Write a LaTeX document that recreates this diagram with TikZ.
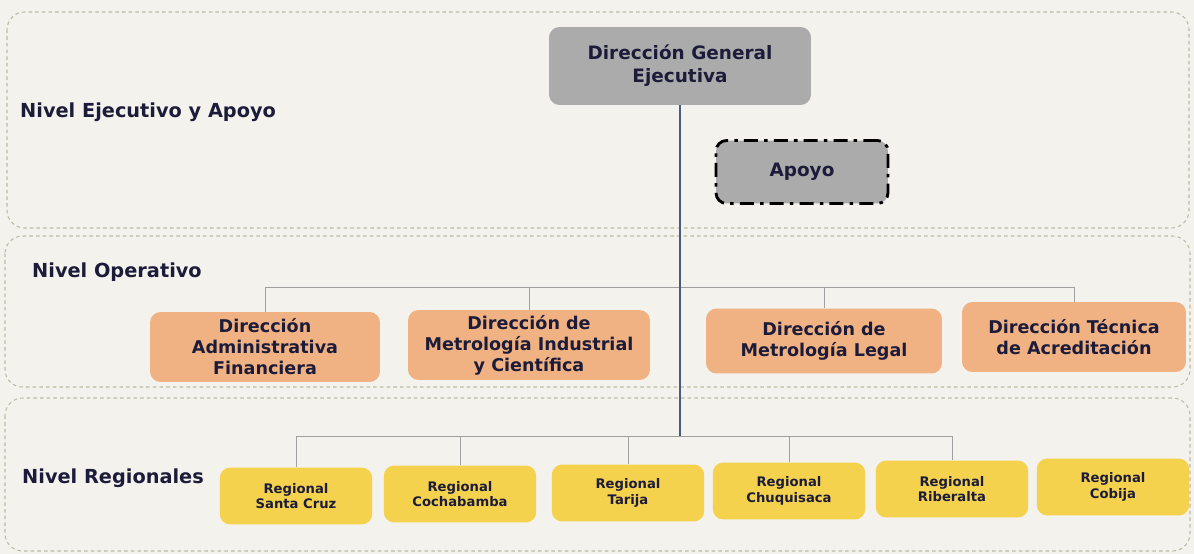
\documentclass[tikz,border=0pt]{standalone}
\usepackage{fontspec}
\setmainfont{DejaVu Sans}
\usepackage{tikz}

\definecolor{paper}{HTML}{F3F2EC}
\definecolor{panelline}{HTML}{BDBBA4}
\definecolor{gris}{HTML}{ABABAB}
\definecolor{naranja}{HTML}{F0B282}
\definecolor{amarillo}{HTML}{F5D24E}
\definecolor{tinta}{HTML}{1C1C3A}
\definecolor{azul}{HTML}{4A5A84}

\begin{document}
\begin{tikzpicture}[x=0.02cm,y=-0.02cm,
    panel/.style={draw=panelline,dash pattern=on 2pt off 1.8pt,rounded corners=10pt,line width=0.6pt},
    nivel/.style={anchor=west,text=tinta,font=\fontsize{11}{13}\selectfont\bfseries},
    caja/.style={rounded corners=6pt,align=center,text=tinta,inner sep=2pt},
    gris box/.style={caja,fill=gris,minimum width=5.24cm,minimum height=1.56cm,font=\fontsize{10.5}{13}\selectfont\bfseries},
    apoyo box/.style={caja,fill=gris,draw=black,line width=1.6pt,dash pattern=on 8pt off 3.5pt on 2pt off 3.5pt,minimum width=3.44cm,minimum height=1.26cm,font=\fontsize{10.5}{13}\selectfont\bfseries},
    op box/.style={caja,fill=naranja,minimum height=1.4cm,font=\fontsize{10}{12}\selectfont\bfseries},
    reg box/.style={caja,fill=amarillo,minimum width=3.05cm,minimum height=1.14cm,font=\fontsize{7.5}{9}\selectfont\bfseries},
    conn/.style={draw=gray!75,line width=0.5pt},
    mainline/.style={draw=azul,line width=0.6pt}]
    \useasboundingbox[fill=paper] (0,0) rectangle (1194,554);

    % niveles
    \draw[panel] (7,12) rectangle (1189,228);
    \draw[panel] (5,236) rectangle (1190,387);
    \draw[panel] (5,398) rectangle (1190,551);
    \node[nivel] (lejec) at (14,112) {Nivel Ejecutivo y Apoyo};
    \node[nivel] (loper) at (26,272) {Nivel Operativo};
    \node[nivel] (lreg) at (16,478) {Nivel Regionales};

    % ejecutivo
    \node[gris box] (dge) at (680,66) {Dirección General\\Ejecutiva};
    \node[apoyo box] (apoyo) at (802,172) {Apoyo};

    % operativo
    \node[op box,minimum width=4.6cm] (daf) at (265,347) {Dirección\\Administrativa\\Financiera};
    \node[op box,minimum width=4.84cm] (dmic) at (529,345) {Dirección de\\Metrología Industrial\\y Científica};
    \node[op box,minimum width=4.72cm,minimum height=1.3cm] (dml) at (824,341) {Dirección de\\Metrología Legal};
    \node[op box,minimum width=4.48cm] (dta) at (1074,337) {Dirección Técnica\\de Acreditación};

    % regionales
    \node[reg box] (rsc) at (296,496) {Regional\\Santa Cruz};
    \node[reg box] (rcb) at (460,494) {Regional\\Cochabamba};
    \node[reg box] (rta) at (628,493) {Regional\\Tarija};
    \node[reg box] (rch) at (789,491) {Regional\\Chuquisaca};
    \node[reg box] (rri) at (952,489) {Regional\\Riberalta};
    \node[reg box] (rco) at (1113,487) {Regional\\Cobija};

    \coordinate (hubop) at (680,287);
    \coordinate (hubreg) at (680,436);

    \foreach \n in {daf,dmic,dml,dta}
        \draw[conn] (\n.north) -- (\n.north |- hubop);
    \draw[conn] (daf.north |- hubop) -- (dta.north |- hubop);
    \foreach \n in {rsc,rcb,rta,rch,rri}
        \draw[conn] (\n.north) -- (\n.north |- hubreg);
    \draw[conn] (rsc.north |- hubreg) -- (rri.north |- hubreg);
    \draw[mainline] (dge) -- (hubreg);
\end{tikzpicture}
\end{document}
